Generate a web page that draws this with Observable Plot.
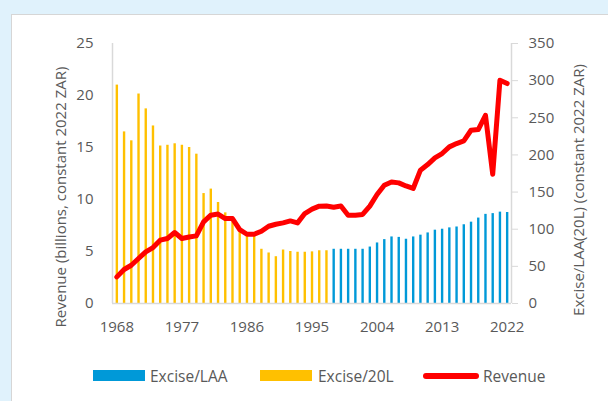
<!DOCTYPE html>
<html><head><meta charset="utf-8">
<script src="https://cdn.jsdelivr.net/npm/d3@7"></script>
<script src="https://cdn.jsdelivr.net/npm/@observablehq/plot@0.6"></script>
<style>
body{margin:0;background:#e0f2fc;width:608px;height:401px;overflow:hidden;font-family:"Open Sans",sans-serif;position:relative;}
#panel{position:absolute;left:11px;top:14px;width:640px;height:440px;background:#fff;border-left:1px solid #d6d6d6;border-top:1px solid #d6d6d6;}
#chart{position:absolute;left:0;top:0;}
.ttl{position:absolute;white-space:nowrap;color:#595959;font-size:15px;transform:translate(-50%,-50%) rotate(-90deg);}
.leg{position:absolute;top:366px;height:20px;font-size:15.5px;color:#595959;line-height:20px;white-space:nowrap;}
.sw{position:absolute;}
</style></head>
<body>
<div id="panel"></div>
<div id="chart"></div>
<div class="ttl" style="left:60px;top:197px">Revenue (billions, constant 2022 ZAR)</div>
<div class="ttl" style="left:578px;top:190px">Excise/LAA(20L) (constant 2022 ZAR)</div>
<div class="sw" style="left:93px;top:370px;width:52px;height:11px;background:#0099d8"></div>
<div class="leg" style="left:150px">Excise/LAA</div>
<div class="sw" style="left:260px;top:370px;width:52px;height:11px;background:#ffc000"></div>
<div class="leg" style="left:318px">Excise/20L</div>
<div class="sw" style="left:423px;top:372.5px;width:56px;height:6px;border-radius:3px;background:#ff0000"></div>
<div class="leg" style="left:483px">Revenue</div>
<script>
const years20L = d3.range(1968, 1998);
const excise20L = [294,231,219,282,262,239,212,213,215,213,210,201,148,154,136,122,110,97,93,92,73,68,63,72,70,69,69,69.5,71,71];
const yearsLAA = d3.range(1998, 2023);
const exciseLAA = [73,73,73,73,73,76,81.5,86,89.6,89,86.5,89.6,92,95,98.7,100,101.8,103,106,109.5,115,120,121,123,122.5];
const yearsRev = d3.range(1968, 2023);
const revenue = [2.56,3.27,3.68,4.33,4.96,5.38,6.09,6.25,6.83,6.25,6.4,6.5,7.85,8.49,8.6,8.17,8.17,7.11,6.66,6.66,6.95,7.43,7.62,7.75,7.94,7.75,8.65,9.07,9.36,9.38,9.26,9.38,8.49,8.49,8.56,9.36,10.48,11.37,11.69,11.6,11.3,11.06,12.82,13.36,14.0,14.42,15.06,15.38,15.63,16.66,16.73,18.1,12.43,21.47,21.15];
const xTicks = [1968,1977,1986,1995,2004,2013,2022];
const leftTicks = [0,5,10,15,20,25];
const rightTicks = [0,50,100,150,200,250,300,350];

const ratio = 350 / 25;
const bars20L = years20L.map((y, i) => ({year: y, value: excise20L[i]}));
const barsLAA = yearsLAA.map((y, i) => ({year: y, value: exciseLAA[i]}));
const rev = yearsRev.map((y, i) => ({year: y, value: revenue[i]}));
const xDomain = [1967.4, 2022.6];

const plot = Plot.plot({
  width: 608, height: 345,
  marginLeft: 112, marginRight: 97, marginTop: 43, marginBottom: 42,
  style: {fontFamily: "Open Sans", fontSize: "15px", background: "transparent", overflow: "visible"},
  x: {domain: xDomain},
  y: {domain: [0, 25]},
  marks: [
    Plot.ruleX(bars20L, {x: "year", y1: 0, y2: d => d.value / ratio, stroke: "#ffc000", strokeWidth: 2.4}),
    Plot.ruleX(barsLAA, {x: "year", y1: 0, y2: d => d.value / ratio, stroke: "#0099d8", strokeWidth: 2.4}),
    Plot.ruleY([0], {stroke: "#d9d9d9", strokeWidth: 1.5}),
    Plot.ruleX(xDomain, {stroke: "#d9d9d9", strokeWidth: 1.5}),
    Plot.line(rev, {x: "year", y: "value", stroke: "#ff0000", strokeWidth: 5, strokeLinejoin: "round", strokeLinecap: "round"}),
    Plot.axisY(leftTicks, {anchor: "left", tickSize: 0, tickPadding: 19, label: null, fill: "#595959"}),
    Plot.axisY(rightTicks.map(d => d / ratio), {anchor: "right", tickSize: 6, tickPadding: 11, stroke: "#d9d9d9", fill: "#595959", tickFormat: d => String(Math.round(d * ratio)), label: null}),
    Plot.axisX(xTicks, {tickSize: 0, tickPadding: 18, tickFormat: d => String(d), label: null, fill: "#595959"})
  ]
});
document.getElementById("chart").appendChild(plot);
</script>
</body></html>
